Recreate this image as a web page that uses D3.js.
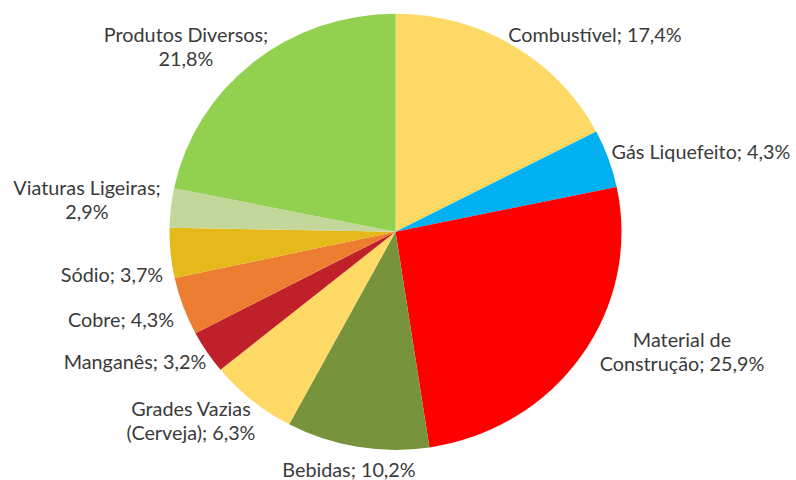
<!DOCTYPE html>
<html>
<head>
<meta charset="utf-8">
<script src="https://cdnjs.cloudflare.com/ajax/libs/d3/7.8.5/d3.min.js"></script>
<style>
  body { margin: 0; background: #fff; }
  text { font-family: Lato, "Open Sans", sans-serif; font-size: 19.8px; fill: #3a3a3a; }
</style>
</head>
<body>
<div id="chart"></div>
<script>
// data
var categories = ["Combustível", "Gás Liquefeito", "Material de Construção", "Bebidas",
  "Grades Vazias (Cerveja)", "Manganês", "Cobre", "Sódio", "Viaturas Ligeiras", "Produtos Diversos"];
var values = [17.4, 4.3, 25.9, 10.2, 6.3, 3.2, 4.3, 3.7, 2.9, 21.8];
var labelLines = [
  ["Combustível; 17,4%"],
  ["Gás Liquefeito; 4,3%"],
  ["Material de", "Construção; 25,9%"],
  ["Bebidas; 10,2%"],
  ["Grades Vazias", "(Cerveja); 6,3%"],
  ["Manganês; 3,2%"],
  ["Cobre; 4,3%"],
  ["Sódio; 3,7%"],
  ["Viaturas Ligeiras;", "2,9%"],
  ["Produtos Diversos;", "21,8%"]
];

var colors = ["#FFD966", "#00B0F0", "#FF0000", "#77933C", "#FFD966",
  "#C0202A", "#ED7D31", "#E6B91B", "#C4D79B", "#92D050"];

// where each label sits (center x, first line baseline)
var labelPos = [
  [595, 42], [701, 159], [682, 347], [349, 477], [191, 416],
  [135, 369], [121, 327], [112, 282], [87, 195], [186, 42]
];

var svgWidth = 796;
var svgHeight = 480;
var cx = 395.5, cy = 231.8;
var radius = 226;

var svg = d3.select("#chart")
  .append("svg")
  .attr("width", svgWidth)
  .attr("height", svgHeight);

var pieGroup = svg.append("g")
  .attr("transform", `translate(${cx}, ${cy}) scale(1, 0.965)`);

var pie = d3.pie().sort(null).value(d => d);
var arc = d3.arc().innerRadius(0).outerRadius(radius);

pieGroup.selectAll("path")
  .data(pie(values))
  .enter()
  .append("path")
  .attr("d", arc)
  .attr("fill", (d, i) => colors[i]);

// labels
var labels = svg.selectAll(".lbl")
  .data(labelLines)
  .enter()
  .append("text")
  .attr("class", "lbl")
  .attr("text-anchor", "middle")
  .attr("x", (d, i) => labelPos[i][0])
  .attr("y", (d, i) => labelPos[i][1]);

labels.each(function(lines, i) {
  var t = d3.select(this);
  lines.forEach(function(line, j) {
    t.append("tspan")
      .attr("x", labelPos[i][0])
      .attr("dy", j === 0 ? 0 : 24)
      .text(line);
  });
});
</script>
</body>
</html>
